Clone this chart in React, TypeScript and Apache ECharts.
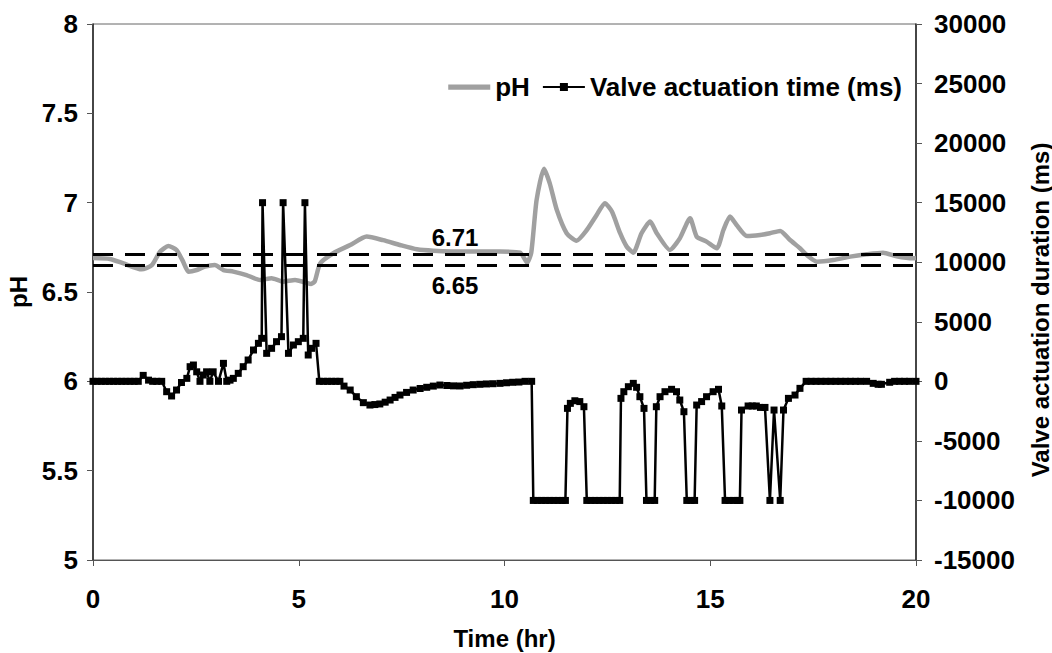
import React, { useEffect, useRef } from "react";
import * as echarts from "echarts";

const phTime = [0, 0.41, 0.74, 1.18, 1.43, 1.63, 1.83, 2.03, 2.19, 2.32, 2.52, 2.72, 2.96, 3.17, 3.41, 3.73, 4.06, 4.34, 4.62, 4.91, 5.15, 5.3, 5.39, 5.52, 5.84, 6.25, 6.65, 7.05, 7.46, 7.87, 8.27, 9.08, 9.89, 10.38, 10.55, 10.65, 10.78, 10.96, 11.1, 11.27, 11.51, 11.75, 12.0, 12.24, 12.44, 12.61, 12.81, 12.97, 13.13, 13.33, 13.54, 13.7, 14.02, 14.26, 14.51, 14.67, 14.91, 15.16, 15.32, 15.48, 15.64, 15.89, 16.21, 16.45, 16.7, 16.94, 17.18, 17.38, 17.59, 17.99, 18.4, 18.8, 19.2, 19.53, 19.93, 20];
const phValues = [6.69, 6.685, 6.66, 6.627, 6.65, 6.726, 6.757, 6.735, 6.67, 6.614, 6.623, 6.642, 6.651, 6.623, 6.614, 6.595, 6.567, 6.577, 6.558, 6.567, 6.554, 6.545, 6.56, 6.66, 6.717, 6.763, 6.81, 6.79, 6.763, 6.739, 6.731, 6.726, 6.726, 6.72, 6.665, 6.72, 7.015, 7.19, 7.108, 6.96, 6.829, 6.787, 6.847, 6.931, 6.997, 6.95, 6.829, 6.754, 6.72, 6.829, 6.894, 6.829, 6.735, 6.8, 6.913, 6.81, 6.782, 6.745, 6.847, 6.922, 6.875, 6.813, 6.819, 6.829, 6.842, 6.791, 6.745, 6.7, 6.67, 6.679, 6.698, 6.711, 6.72, 6.7, 6.689, 6.69];

const valveTime = [0, 0.1, 0.2, 0.3, 0.4, 0.5, 0.6, 0.7, 0.8, 0.9, 1.0, 1.1, 1.22, 1.35, 1.45, 1.55, 1.67, 1.79, 1.91, 2.03, 2.15, 2.28, 2.36, 2.44, 2.52, 2.6, 2.68, 2.76, 2.84, 2.92, 3.05, 3.17, 3.25, 3.33, 3.41, 3.53, 3.65, 3.77, 3.9, 4.02, 4.1, 4.12, 4.22, 4.34, 4.46, 4.58, 4.62, 4.75, 4.87, 4.99, 5.11, 5.15, 5.23, 5.31, 5.42, 5.5, 5.6, 5.7, 5.8, 5.9, 6.0, 6.1, 6.25, 6.4, 6.57, 6.73, 6.85, 6.97, 7.1, 7.22, 7.34, 7.46, 7.62, 7.78, 7.95, 8.11, 8.27, 8.43, 8.6, 8.76, 8.92, 9.08, 9.24, 9.4, 9.56, 9.72, 9.89, 10.05, 10.2, 10.35, 10.5, 10.66, 10.7, 10.8, 10.9, 11.0, 11.1, 11.2, 11.3, 11.4, 11.48, 11.53, 11.6, 11.71, 11.83, 11.93, 12.0, 12.1, 12.2, 12.3, 12.4, 12.5, 12.6, 12.7, 12.8, 12.83, 12.9, 13.01, 13.13, 13.21, 13.29, 13.39, 13.45, 13.55, 13.65, 13.69, 13.78, 13.9, 14.06, 14.18, 14.26, 14.36, 14.43, 14.53, 14.62, 14.67, 14.79, 14.91, 15.07, 15.2, 15.28, 15.36, 15.46, 15.56, 15.66, 15.72, 15.76, 15.92, 16.02, 16.12, 16.22, 16.33, 16.45, 16.55, 16.7, 16.78, 16.9, 17.06, 17.18, 17.33, 17.45, 17.57, 17.69, 17.81, 17.93, 18.05, 18.17, 18.29, 18.41, 18.53, 18.65, 18.8, 18.96, 19.08, 19.16, 19.36, 19.48, 19.6, 19.72, 19.84, 20];
const valveValues = [0, 0, 0, 0, 0, 0, 0, 0, 0, 0, 0, 0, 500, 100, 0, 0, 0, -870, -1230, -730, -100, 250, 1230, 1370, 800, 0, 530, 800, 0, 800, 0, 1510, 0, 100, 250, 670, 1230, 1790, 2630, 3190, 3610, 15000, 2350, 2770, 3330, 3750, 15000, 2350, 3050, 3330, 3610, 15000, 2210, 2770, 3190, 0, 0, 0, 0, 0, 0, -400, -730, -1290, -1790, -1990, -1950, -1900, -1750, -1570, -1350, -1150, -930, -730, -600, -500, -400, -310, -350, -380, -390, -330, -280, -250, -220, -200, -170, -120, -80, -60, 0, 0, -10000, -10000, -10000, -10000, -10000, -10000, -10000, -10000, -10000, -2270, -1850, -1630, -1700, -2130, -10000, -10000, -10000, -10000, -10000, -10000, -10000, -10000, -10000, -1430, -870, -450, -170, -500, -1290, -2270, -10000, -10000, -10000, -2130, -1290, -870, -670, -870, -1570, -2550, -10000, -10000, -10000, -1990, -1700, -1290, -870, -670, -2070, -10000, -10000, -10000, -10000, -10000, -2410, -2070, -2070, -2070, -2190, -2190, -10000, -2410, -10000, -2410, -1430, -1150, -590, 0, 0, 0, 0, 0, 0, 0, 0, 0, 0, 0, 0, 0, -170, -250, -250, -80, 0, 0, 0, 0, 0];

const phThresholds = [6.71, 6.65];
const xTicks = { min: 0, max: 20, interval: 5 };
const leftTicks = { min: 5, max: 8, interval: 0.5 };
const rightTicks = { min: -15000, max: 30000, interval: 5000 };

const FONT = "'Liberation Sans', Arial, sans-serif";

export default function App() {
  const ref = useRef<HTMLDivElement>(null);
  useEffect(() => {
    if (!ref.current) return;
    const chart = echarts.init(ref.current, undefined, { renderer: "svg" });
    const tickStyle = { fontFamily: FONT, fontWeight: "bold" as const, fontSize: 26, color: "#000" };
    const titleStyle = { fontFamily: FONT, fontWeight: "bold" as const, fontSize: 24, color: "#000" };
    chart.setOption({
      animation: false,
      backgroundColor: "#fff",
      grid: {
        left: 93,
        right: 136,
        top: 24,
        bottom: 93,
        show: true,
        borderColor: "#666",
        borderWidth: 1,
        containLabel: false,
        outerBoundsMode: "none",
      },
      legend: {
        data: [
          { name: "pH", icon: "path://M0,0 L40,0 L40,5 L0,5 Z" },
          { name: "Valve actuation time (ms)" },
        ],
        right: 145,
        top: 69,
        itemWidth: 42,
        itemHeight: 10,
        itemGap: 12,
        textStyle: { fontFamily: FONT, fontWeight: "bold", fontSize: 26, color: "#000" },
      },
      xAxis: {
        type: "value",
        min: xTicks.min,
        max: xTicks.max,
        interval: xTicks.interval,
        name: "Time (hr)",
        nameLocation: "middle",
        nameGap: 66,
        nameTextStyle: titleStyle,
        axisLine: { show: true, onZero: false, lineStyle: { color: "#555", width: 1 } },
        axisTick: { show: true, inside: false, length: 6, lineStyle: { color: "#555" } },
        axisLabel: { ...tickStyle, margin: 26 },
        splitLine: { show: false },
      },
      yAxis: [
        {
          type: "value",
          min: leftTicks.min,
          max: leftTicks.max,
          interval: leftTicks.interval,
          name: "pH",
          nameLocation: "middle",
          nameGap: 62,
          nameRotate: 90,
          nameTextStyle: titleStyle,
          axisLine: { show: true, lineStyle: { color: "#222", width: 1.5 } },
          axisTick: { show: true, length: 6, lineStyle: { color: "#555" } },
          axisLabel: { ...tickStyle, margin: 15 },
          splitLine: { show: false },
        },
        {
          type: "value",
          position: "right",
          min: rightTicks.min,
          max: rightTicks.max,
          interval: rightTicks.interval,
          name: "Valve actuation duration (ms)",
          nameLocation: "middle",
          nameGap: 112,
          nameRotate: 90,
          nameTextStyle: { ...titleStyle, padding: [0, 36, 0, 0] },
          axisLine: { show: true, lineStyle: { color: "#222", width: 1.5 } },
          axisTick: { show: true, length: 6, lineStyle: { color: "#555" } },
          axisLabel: { ...tickStyle, margin: 18, formatter: (v: number) => String(v) },
          splitLine: { show: false },
        },
      ],
      series: [
        {
          name: "pH",
          type: "line",
          yAxisIndex: 0,
          symbol: "none",
          smooth: 0.2,
          data: phTime.map((t, i) => [t, phValues[i]]),
          lineStyle: { color: "#a0a0a0", width: 4.5 },
          itemStyle: { color: "#a0a0a0" },
          z: 2,
          markLine: {
            silent: true,
            symbol: "none",
            label: { show: false },
            lineStyle: { color: "#000", type: [20, 12], width: 3 },
            data: phThresholds.map((v) => ({ yAxis: v })),
          },
          markPoint: {
            symbol: "circle",
            symbolSize: 0,
            data: [
              {
                coord: [8.8, phThresholds[0]],
                label: { show: true, formatter: String(phThresholds[0]), offset: [0, -17], ...titleStyle },
              },
              {
                coord: [8.8, phThresholds[1]],
                label: { show: true, formatter: String(phThresholds[1]), offset: [0, 20], ...titleStyle },
              },
            ],
          },
        },
        {
          name: "Valve actuation time (ms)",
          type: "line",
          yAxisIndex: 1,
          symbol: "rect",
          symbolSize: 7,
          data: valveTime.map((t, i) => [t, valveValues[i]]),
          lineStyle: { color: "#000", width: 2.5 },
          itemStyle: { color: "#000" },
          z: 3,
        },
      ],
    });
    return () => chart.dispose();
  }, []);
  return <div ref={ref} style={{ width: 1052, height: 653, position: "absolute", left: 0, top: 0 }} />;
}
